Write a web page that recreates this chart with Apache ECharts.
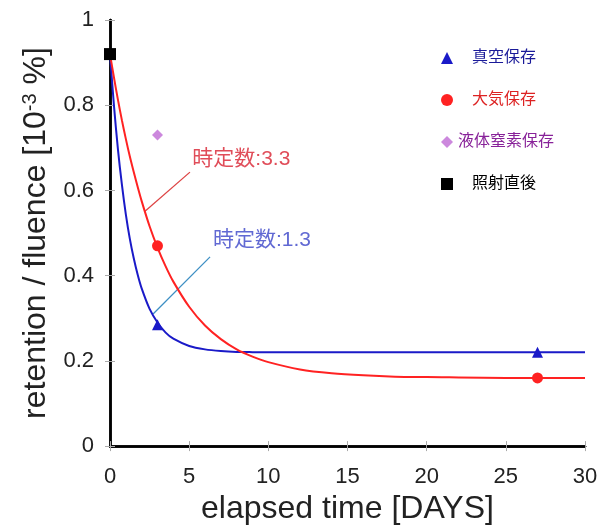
<!DOCTYPE html>
<html><head><meta charset="utf-8">
<script src="https://cdn.jsdelivr.net/npm/echarts@6/dist/echarts.min.js"></script>
<style>html,body{margin:0;padding:0;background:#fff}#c{width:609px;height:530px}</style>
</head><body><div id="c"></div>
<script>
// measured points
const vacuumPts = [[3, 0.285], [27, 0.22]];
const airPts = [[3, 0.47], [27, 0.16]];
const ln2Pts = [[3, 0.73]];
const initialPts = [[0, 0.92]];
// fitted curves, values
const curveT = [0, 0.25, 0.5, 0.75, 1, 1.25, 1.5, 1.75, 2, 2.5, 3, 3.5, 4, 5, 6, 7, 8, 9, 10, 12, 14, 16, 18, 20, 25, 30];
const vacuumCurve = [0.92, 0.799, 0.697, 0.614, 0.544, 0.487, 0.441, 0.402, 0.370, 0.322, 0.290, 0.267, 0.252, 0.235, 0.227, 0.223, 0.221, 0.2205, 0.2203, 0.220, 0.220, 0.220, 0.220, 0.220, 0.220, 0.220];
const airCurve = [0.92, 0.865, 0.813, 0.765, 0.721, 0.680, 0.643, 0.608, 0.575, 0.516, 0.466, 0.423, 0.386, 0.327, 0.283, 0.251, 0.227, 0.210, 0.197, 0.180, 0.171, 0.166, 0.163, 0.162, 0.160, 0.160];
// annotation leader lines & label anchors
const airLeader = [[2.21, 0.551], [5.05, 0.643]];
const vacLeader = [[2.72, 0.31], [6.32, 0.444]];
const airLabel = [[5.2, 0.673]];
const vacLabel = [[6.5, 0.484]];
const airLabelText = '時定数:3.3';
const vacLabelText = '時定数:1.3';
const seriesNames = ['真空保存', '大気保存', '液体窒素保存', '照射直後'];

const zip = (xs, ys) => xs.map((x, i) => [x, ys[i]]);
const FONT = "'Liberation Sans', 'Noto Sans CJK JP', sans-serif";
const BLUE = '#1a1ac8', RED = '#ff2222', PURPLE = '#cc88dd';

const chart = echarts.init(document.getElementById('c'));
const axisCommon = {
  min: 0,
  axisLine: { show: true, lineStyle: { color: '#000', width: 2.5 } },
  axisTick: { show: true, inside: true, length: 5, lineStyle: { color: '#aaa', width: 1 } },
  splitLine: { show: false }
};
chart.setOption({
  animation: false,
  grid: { left: 110, right: 24, top: 20, bottom: 82 },
  legend: {
    orient: 'vertical', left: 436, top: 44, itemGap: 24, itemWidth: 12, itemHeight: 12,
    textStyle: { fontSize: 16, lineHeight: 18, fontFamily: FONT },
    data: [
      { name: seriesNames[0], icon: 'triangle', textStyle: { color: '#1a1a99', padding: [0, 0, 0, 14] } },
      { name: seriesNames[1], icon: 'circle', textStyle: { color: '#dd2222', padding: [0, 0, 0, 14] } },
      { name: seriesNames[2], icon: 'diamond', textStyle: { color: '#882299' } },
      { name: seriesNames[3], icon: 'rect', textStyle: { color: '#000', padding: [0, 0, 0, 14] } }
    ]
  },
  xAxis: [
    Object.assign({}, axisCommon, {
      type: 'value', max: 30, interval: 5,
      name: 'elapsed time [DAYS]', nameLocation: 'middle', nameGap: 45,
      nameTextStyle: { fontSize: 32, color: '#222', fontFamily: FONT },
      axisLabel: { fontSize: 22, color: '#222', margin: 20, fontFamily: FONT }
    }),
    Object.assign({}, axisCommon, {
      type: 'value', position: 'top', max: 30, interval: 5, axisLabel: { show: false }
    })
  ],
  yAxis: [
    Object.assign({}, axisCommon, {
      type: 'value', max: 1, interval: 0.2,
      name: '{a|retention / fluence [10}{s|-3}{a| %]}', nameLocation: 'middle', nameGap: 56,
      nameTextStyle: {
        fontFamily: FONT, color: '#222',
        rich: {
          a: { fontSize: 32, color: '#222', fontFamily: FONT },
          s: { fontSize: 20, color: '#222', fontFamily: FONT, verticalAlign: 'top', padding: [0, 0, 13, 0] }
        }
      },
      axisLabel: { fontSize: 22, color: '#222', margin: 16, fontFamily: FONT }
    }),
    Object.assign({}, axisCommon, {
      type: 'value', position: 'right', max: 1, interval: 0.2, axisLabel: { show: false }
    })
  ],
  series: [
    { type: 'line', data: zip(curveT, vacuumCurve), smooth: 0.3, showSymbol: false,
      lineStyle: { color: BLUE, width: 2 }, z: 3, silent: true },
    { type: 'line', data: zip(curveT, airCurve), smooth: 0.3, showSymbol: false,
      lineStyle: { color: RED, width: 2 }, z: 3, silent: true },
    { type: 'line', data: airLeader, showSymbol: false, lineStyle: { color: '#dd4444', width: 1.3 }, z: 2 },
    { type: 'line', data: vacLeader, showSymbol: false, lineStyle: { color: '#3d8fc4', width: 1.3 }, z: 2 },
    { type: 'scatter', data: airLabel, symbolSize: 0,
      label: { show: true, position: 'right', distance: 0, formatter: airLabelText, fontSize: 21, color: '#d82030', fontFamily: FONT } },
    { type: 'scatter', data: vacLabel, symbolSize: 0,
      label: { show: true, position: 'right', distance: 0, formatter: vacLabelText, fontSize: 21, color: '#3a44c8', fontFamily: FONT } },
    { name: seriesNames[0], type: 'scatter', data: vacuumPts, symbol: 'triangle', symbolSize: 11, itemStyle: { color: BLUE, opacity: 1 }, z: 5 },
    { name: seriesNames[1], type: 'scatter', data: airPts, symbol: 'circle', symbolSize: 11, itemStyle: { color: RED, opacity: 1 }, z: 5 },
    { name: seriesNames[2], type: 'scatter', data: ln2Pts, symbol: 'diamond', symbolSize: 11, itemStyle: { color: PURPLE, opacity: 1 }, z: 5 },
    { name: seriesNames[3], type: 'scatter', data: initialPts, symbol: 'rect', symbolSize: 12, itemStyle: { color: '#000', opacity: 1 }, z: 6 }
  ]
});
</script></body></html>
